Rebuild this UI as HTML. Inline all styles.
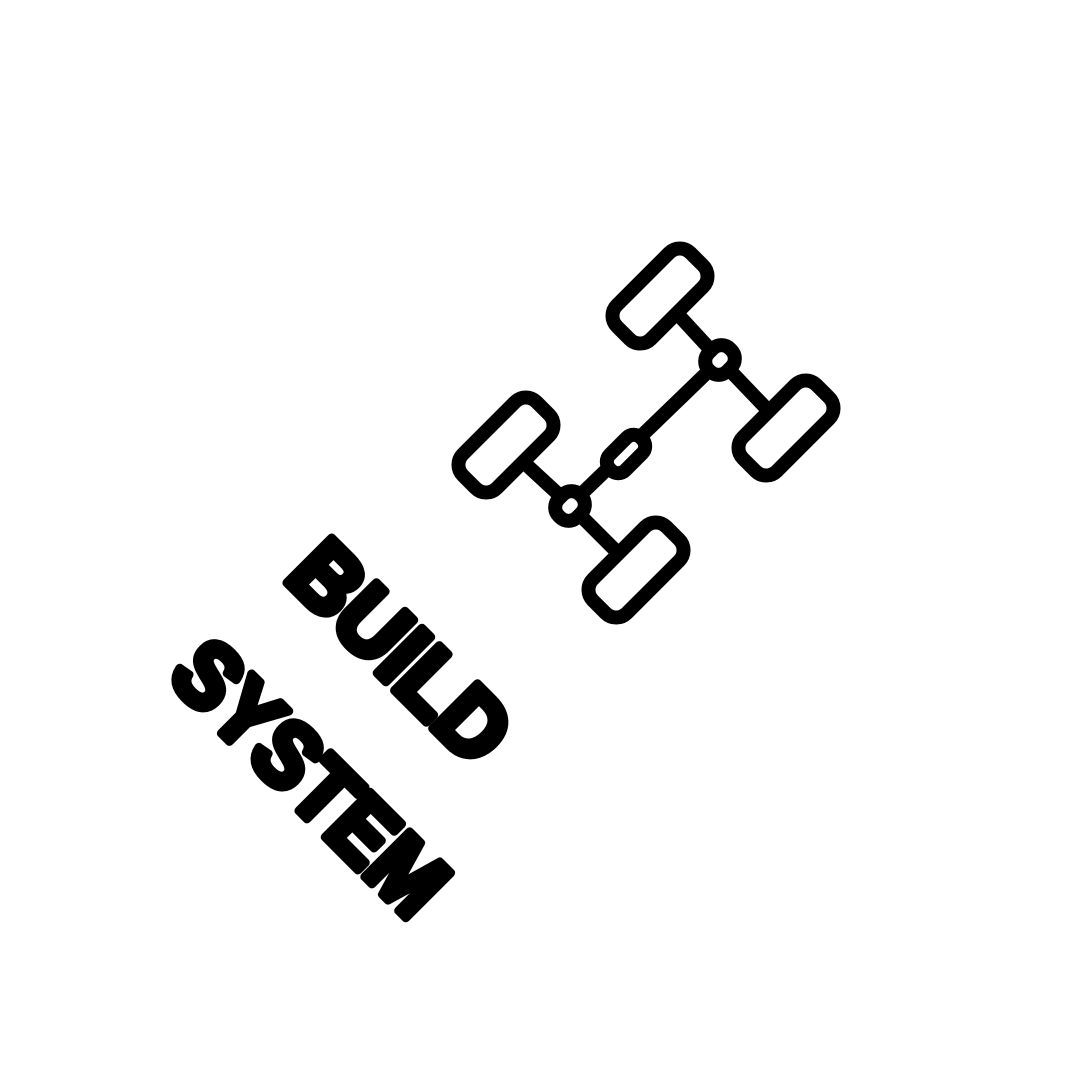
<!DOCTYPE html>
<html><head><meta charset="utf-8"><style>
html,body{margin:0;padding:0;background:#fff;}
svg{display:block;}
</style></head><body>
<svg width="1080" height="1080" viewBox="0 0 1080 1080">
<rect width="1080" height="1080" fill="#fff"/>
<g stroke="#000" stroke-width="14" fill="none" stroke-linecap="round">
  <line x1="660" y1="295" x2="720" y2="360"/>
  <line x1="720" y1="360" x2="785" y2="428"/>
  <line x1="720" y1="360" x2="570" y2="505"/>
  <line x1="505" y1="445" x2="570" y2="505"/>
  <line x1="570" y1="505" x2="635" y2="570"/>
  <rect x="-52" y="-24" width="104" height="48" rx="15" fill="#fff" transform="translate(660,296) rotate(-45)"/>
  <rect x="-52" y="-24" width="104" height="48" rx="15" fill="#fff" transform="translate(786,428) rotate(-45)"/>
  <rect x="-52" y="-24" width="104" height="48" rx="15" fill="#fff" transform="translate(506,445) rotate(-45)"/>
  <rect x="-52" y="-24" width="104" height="48" rx="15" fill="#fff" transform="translate(636,570) rotate(-45)"/>
  <rect x="-15" y="-13" width="30" height="26" rx="12" fill="#fff" transform="translate(720,360) rotate(-45)"/>
  <rect x="-15" y="-13" width="30" height="26" rx="12" fill="#fff" transform="translate(570,506) rotate(-45)"/>
  <rect x="-22" y="-11" width="44" height="22" rx="10" fill="#fff" transform="translate(626,454) rotate(-45)"/>
</g>
<text x="0" y="0" transform="translate(400,652) rotate(45)" text-anchor="middle" dominant-baseline="central" font-family="Liberation Sans, sans-serif" font-weight="bold" font-size="92" textLength="270" lengthAdjust="spacingAndGlyphs" fill="#000" stroke="#000" stroke-width="9" stroke-linejoin="round">BUILD</text>
<text x="0" y="0" transform="translate(310,778) rotate(45)" text-anchor="middle" dominant-baseline="central" font-family="Liberation Sans, sans-serif" font-weight="bold" font-size="92" textLength="345" lengthAdjust="spacingAndGlyphs" fill="#000" stroke="#000" stroke-width="9" stroke-linejoin="round">SYSTEM</text>
</svg>
</body></html>
